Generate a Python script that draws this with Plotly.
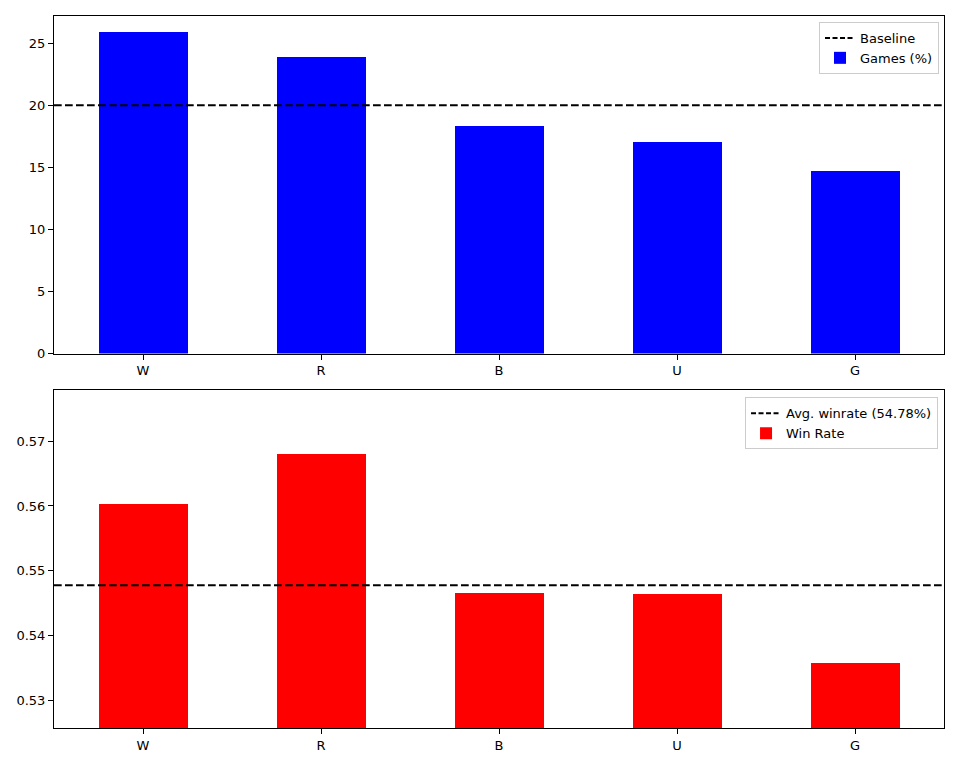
import plotly.graph_objects as go

categories = ["W", "R", "B", "U", "G"]
games_pct = [25.92, 23.88, 18.37, 17.07, 14.74]
win_rate = [0.5602, 0.5679, 0.5465, 0.5464, 0.5358]
baseline = 20.0
avg_winrate = 0.5478

FONT = "DejaVu Sans"
dash = "7.7px,3.3px"

fig = go.Figure()

# top panel
fig.add_trace(go.Scatter(x=[None], y=[None], mode="lines", name="Baseline",
                         line=dict(color="black", width=2, dash="5px,2.5px"),
                         xaxis="x", yaxis="y", legend="legend"))
fig.add_trace(go.Bar(x=categories, y=games_pct, name="Games (%)", width=0.5,
                     marker=dict(color="#0000ff", line=dict(width=0)),
                     xaxis="x", yaxis="y", legend="legend"))
# bottom panel
fig.add_trace(go.Scatter(x=[None], y=[None], mode="lines",
                         name=f"Avg. winrate ({avg_winrate*100:.2f}%)",
                         line=dict(color="black", width=2, dash="5px,2.5px"),
                         xaxis="x2", yaxis="y2", legend="legend2"))
fig.add_trace(go.Bar(x=categories, y=win_rate, name="Win Rate", width=0.5,
                     marker=dict(color="#ff0000", line=dict(width=0)),
                     xaxis="x2", yaxis="y2", legend="legend2"))

fig.add_shape(type="line", xref="x domain", yref="y", x0=0, x1=1,
              y0=baseline, y1=baseline,
              line=dict(color="black", width=2, dash=dash), layer="above")
fig.add_shape(type="line", xref="x2 domain", yref="y2", x0=0, x1=1,
              y0=avg_winrate, y1=avg_winrate,
              line=dict(color="black", width=2, dash=dash), layer="above")

axis_common = dict(showline=True, linecolor="black", linewidth=1, mirror=True,
                   ticks="outside", ticklen=5, tickcolor="black", tickwidth=1,
                   showgrid=False, zeroline=False,
                   tickfont=dict(family=FONT, size=13, color="black"))

legend_common = dict(xanchor="right", yanchor="top", bgcolor="rgba(255,255,255,0.8)",
                     bordercolor="#cccccc", borderwidth=1,
                     font=dict(family=FONT, size=13, color="black"),
                     traceorder="normal", tracegroupgap=0)

fig.update_layout(
    width=944, height=752,
    margin=dict(l=46, r=7, t=7, b=27),
    plot_bgcolor="white", paper_bgcolor="white",
    bargap=0,
    xaxis=dict(domain=[0, 1], anchor="y", type="category",
               range=[-0.5, 4.5], categoryorder="array", categoryarray=categories,
               **axis_common),
    yaxis=dict(domain=[0.5259, 1], anchor="x", range=[0, 27.2],
               tickvals=[0, 5, 10, 15, 20, 25], **axis_common),
    xaxis2=dict(domain=[0, 1], anchor="y2", type="category",
                range=[-0.5, 4.5], categoryorder="array", categoryarray=categories,
                **axis_common),
    yaxis2=dict(domain=[0, 0.4741], anchor="x2", range=[0.5258, 0.5778],
                tickvals=[0.53, 0.54, 0.55, 0.56, 0.57], tickformat=".2f",
                **axis_common),
    legend=dict(x=0.9944, y=0.9916, **legend_common),
    legend2=dict(x=0.9933, y=0.4643, **legend_common),
    showlegend=True,
)

fig.write_html("out.html")
